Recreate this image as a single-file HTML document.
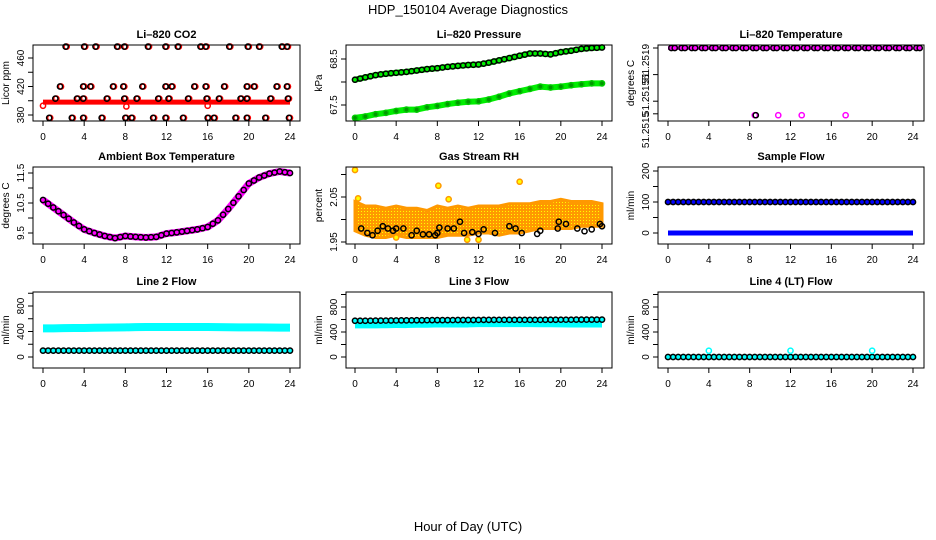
<!DOCTYPE html>
<html><head><meta charset="utf-8"><style>
body{margin:0;background:#fff}
svg{display:block;font-family:"Liberation Sans",sans-serif}
</style></head><body>
<svg id="chart" width="936" height="540" viewBox="0 0 936 540">
<defs>
<pattern id="rhpat" width="3" height="3" patternUnits="userSpaceOnUse"><rect width="3" height="3" fill="#ff9900"/><rect x="1" y="1" width="1" height="1" fill="#ffff00"/></pattern>
</defs>
<text x="468" y="14" text-anchor="middle" font-size="13">HDP_150104  Average Diagnostics</text>
<text x="468" y="531" text-anchor="middle" font-size="13">Hour of Day (UTC)</text>
</svg>
<script>
// ---- data ----
const xTicks = [0,4,8,12,16,20,24];
const co2Hours476 = [2.2,4.0,5.1,7.2,7.9,10.2,11.9,13.1,15.3,15.8,18.1,19.9,21.0,23.2,23.7];
const co2Hours420 = [1.65,3.9,4.6,6.8,7.8,9.65,11.9,12.5,14.7,15.8,17.6,19.8,20.5,22.7,23.7];
const co2Hours405 = [1.2,3.3,3.9,6.2,7.9,9.1,11.2,12.2,14.1,15.9,17.1,19.2,19.8,22.1,23.8];
const co2Hours376 = [0.6,2.8,3.9,5.7,8.0,8.6,10.7,11.9,13.6,16.0,16.6,18.7,19.8,21.6,23.9];
const co2RedLevel = 398;
const co2RedOutliers = [[0,393],[8.1,392],[16,393]];
const hours = [0,1,2,3,4,5,6,7,8,9,10,11,12,13,14,15,16,17,18,19,20,21,22,23,24];
const pressUpper = [68.05,68.1,68.15,68.18,68.2,68.22,68.25,68.28,68.3,68.33,68.35,68.37,68.38,68.42,68.47,68.52,68.57,68.62,68.62,68.6,68.65,68.68,68.72,68.74,68.75];
const pressLower = [67.22,67.25,67.3,67.33,67.37,67.4,67.4,67.45,67.48,67.52,67.55,67.57,67.58,67.62,67.68,67.75,67.8,67.85,67.9,67.88,67.9,67.93,67.95,67.97,67.97];
const tempHigh = 51.2519;
const tempLowHours = [8.5,10.8,13.1,17.4];
const ambient = [10.6,10.35,10.1,9.85,9.62,9.5,9.4,9.33,9.4,9.37,9.35,9.37,9.48,9.52,9.57,9.62,9.7,9.92,10.3,10.72,11.15,11.35,11.48,11.55,11.5];
const rhUpper = [2.04,2.03,2.03,2.025,2.03,2.025,2.025,2.02,2.03,2.025,2.03,2.025,2.03,2.03,2.03,2.035,2.035,2.035,2.04,2.04,2.045,2.04,2.04,2.04,2.035];
const rhLower = [1.975,1.965,1.96,1.96,1.965,1.96,1.96,1.96,1.96,1.965,1.965,1.965,1.97,1.97,1.965,1.97,1.97,1.975,1.98,1.98,1.98,1.98,1.985,1.985,1.985];
const rhBlack = [[0.6,1.98],[1.2,1.97],[1.7,1.965],[2.2,1.975],[2.7,1.985],[3.2,1.98],[3.7,1.975],[4.0,1.98],[4.7,1.98],[5.5,1.965],[6.0,1.975],[6.6,1.967],[7.2,1.967],[7.8,1.965],[8.0,1.97],[8.2,1.982],[9.0,1.98],[9.6,1.98],[10.2,1.995],[10.6,1.97],[11.4,1.972],[12.0,1.968],[12.5,1.978],[13.6,1.97],[15.0,1.985],[15.6,1.98],[16.2,1.97],[17.7,1.968],[18.0,1.975],[19.7,1.98],[19.8,1.995],[20.5,1.99],[21.6,1.98],[22.3,1.974],[23.0,1.978],[23.8,1.99],[24.0,1.985]];
const rhOutliers = [[0,2.11],[0.3,2.047],[8.1,2.075],[9.1,2.045],[10.9,1.955],[12.0,1.955],[16.0,2.084],[4.0,1.96]];
const sampleHigh = [100,100,100,100,100,100,100,100,100,100,100,100,100,100,100,100,100,100,100,100,100,100,100,100,100];
const sampleLow = [0,0,0,0,0,0,0,0,0,0,0,0,0,0,0,0,0,0,0,0,0,0,0,0,0];
const line2Cyan = [450,450,452,455,455,458,460,462,465,468,470,470,470,470,470,470,470,468,466,465,465,465,462,460,460];
const line2Black = [100,100,100,100,100,100,100,100,100,100,100,100,100,100,100,100,100,100,100,100,100,100,100,100,100];
const line3Cyan = [530,530,530,532,535,535,540,540,545,545,545,545,550,550,550,550,550,550,548,548,545,545,545,545,545];
const line3Black = [580,580,582,583,585,586,588,589,590,590,592,592,593,594,595,595,595,595,595,596,597,597,598,598,598];
const line4Black = [0,0,0,0,0,0,0,0,0,0,0,0,0,0,0,0,0,0,0,0,0,0,0,0,0];
const line4CyanSpikes = [[4,100],[12,100],[20,100]];

// ---- drawing ----
const svg = document.getElementById('chart');
const NS = 'http://www.w3.org/2000/svg';
function mk(tag, attrs, parent){const e=document.createElementNS(NS,tag);for(const k in attrs)e.setAttribute(k,attrs[k]);(parent||svg).appendChild(e);return e;}
const cols=[{l:33,r:300,x0:43,x24:290},{l:346,r:612,x0:355,x24:602},{l:658,r:924,x0:668,x24:913}];
const rows=[{t:45,b:121},{t:167,b:244},{t:292,b:368}];

function panel(name,ci,ri,title,ylab,ref,ticks,labels){
  const c=cols[ci], r=rows[ri];
  const g=mk('g',{});
  
  
  const xs=h=>c.x0+(h/24)*(c.x24-c.x0);
  const ys=v=>ref[0][1]+(v-ref[0][0])*(ref[1][1]-ref[0][1])/(ref[1][0]-ref[0][0]);
  const t=mk('text',{x:(c.l+c.r)/2,y:r.t-7,'text-anchor':'middle','font-size':11,'font-weight':'bold'},g);
  t.textContent=title;
  
  
  const yl=mk('text',{x:0,y:0,'text-anchor':'middle','font-size':10,transform:`translate(${c.l-24},${(r.t+r.b)/2}) rotate(-90)`},g);
  yl.textContent=ylab;
  
  
  const data=mk('g',{},g);
  
  
  const box=mk('rect',{x:c.l,y:r.t,width:c.r-c.l,height:r.b-r.t,fill:'none',stroke:'#000','stroke-width':1},g);
  
  
  xTicks.forEach(h=>{
    mk('line',{x1:xs(h),x2:xs(h),y1:r.b,y2:r.b+5,stroke:'#000'},g);
    const tx=mk('text',{x:xs(h),y:r.b+19,'text-anchor':'middle','font-size':10},g);
    tx.textContent=h;
    
    
  });
  ticks.forEach(v=>mk('line',{x1:c.l-5,x2:c.l,y1:ys(v),y2:ys(v),stroke:'#000'},g));
  labels.forEach(([txt,val,isPx])=>{
    const y=isPx?val:ys(val);
    const tl=mk('text',{x:0,y:0,'text-anchor':'middle','font-size':10,transform:`translate(${c.l-9},${y}) rotate(-90)`},g);
    tl.textContent=txt;
    
    
  });
  return {g:data,xs,ys};
}
function circ(p,h,v,col,fill){const e=mk('circle',{cx:p.xs(h),cy:p.ys(v),r:2.6,fill:fill||'none',stroke:col,'stroke-width':1.5},p.g);return e;}
function line(p,hs,vs,col,w){const e=mk('polyline',{points:hs.map((h,i)=>p.xs(h)+','+p.ys(vs[i])).join(' '),fill:'none',stroke:col,'stroke-width':w,'stroke-linejoin':'round'},p.g);return e;}
function dense(p,vals,col,w,blk){
  line(p,hours,vals,col,w);
  if(blk) hours.forEach((h,i)=>{ if(i<24){circ(p,h+0.5,(vals[i]+vals[i+1])/2,'#000',col);} circ(p,h,vals[i],'#000',col);});
}

// CO2
let p=panel('co2-panel',0,0,'Li\u2013820 CO2','Licor ppm',[[380,115],[460,58]],[380,400,420,440,460],[['380',380],['420',420],['460',460]]);
line(p,[0,24],[co2RedLevel,co2RedLevel],'#ff0000',5);
co2RedOutliers.forEach(([h,v])=>circ(p,h,v,'#ff0000'));
[[co2Hours476,476],[co2Hours420,420],[co2Hours405,403],[co2Hours376,376]].forEach(([hs,v])=>hs.forEach(h=>{circ(p,h+0.1,v,'#ff0000');circ(p,h,v,'#000');}));

// Pressure
p=panel('pressure-panel',1,0,'Li\u2013820 Pressure','kPa',[[67.5,105],[68.5,59]],[67.5,68,68.5],[['67.5',67.5],['68.5',68.5]]);
dense(p,pressLower,'#00ee00',6,false);
hours.forEach((h,i)=>circ(p,h,pressLower[i],'#00cc00','#009900'));
dense(p,pressUpper,'#00ee00',6,true);

// Temperature
p=panel('temperature-panel',2,0,'Li\u2013820 Temperature','degrees C',[[51.2514,118],[51.2519,48]],[51.2519,51.25171,51.25152,51.25143],[['51.2519',62,true],['51',78,true],['51.2515',98,true],['51.2515',130,true]]);
line(p,[0,24],[tempHigh,tempHigh],'#ff00ff',4);
hours.forEach((h,i)=>{circ(p,h+0.33,tempHigh,'#000','#ff00ff');circ(p,h+0.66,tempHigh,'#000','#ff00ff');});
tempLowHours.forEach(h=>circ(p,h,51.25142,'#ff00ff'));
circ(p,8.6,51.25142,'#000');

// Ambient
p=panel('ambient-temp-panel',0,1,'Ambient Box Temperature','degrees C',[[9.5,233],[11.5,173]],[9.5,10,10.5,11,11.5],[['9.5',9.5],['10.5',10.5],['11.5',11.5]]);
dense(p,ambient,'#ff00ff',7,true);

// RH
p=panel('rh-panel',1,1,'Gas Stream RH','percent',[[1.95,242],[2.05,197]],[1.95,2.0,2.05,2.1],[['1.95',1.95],['2.05',2.05]]);
{const pts=hours.map((h,i)=>p.xs(h)+','+p.ys(rhUpper[i])).concat(hours.slice().reverse().map((h,j)=>p.xs(h)+','+p.ys(rhLower[24-j]))).join(' ');
 const band=mk('polygon',{points:pts,fill:'url(#rhpat)',stroke:'#ff9900','stroke-width':3},p.g);
 }
rhOutliers.forEach(([h,v])=>circ(p,h,v,'#ff9900','#ffff00'));
rhBlack.forEach(([h,v])=>circ(p,h,v,'#000'));

// Sample Flow
p=panel('sample-flow-panel',2,1,'Sample Flow','ml/min',[[0,233],[200,171]],[0,50,100,150,200],[['0',0],['100',100],['200',200]]);
dense(p,sampleLow,'#0000ff',5,false);
dense(p,sampleHigh,'#0000ff',5,true);

// Line 2
p=panel('line2-flow-panel',0,2,'Line 2 Flow','ml/min',[[0,357],[800,306]],[0,200,400,600,800,1000],[['0',0],['400',400],['800',800]]);
dense(p,line2Cyan,'#00ffff',8,false);
dense(p,line2Black,'#00ffff',5,true);

// Line 3
p=panel('line3-flow-panel',1,2,'Line 3 Flow','ml/min',[[0,357],[800,307]],[0,200,400,600,800,1000],[['0',0],['400',400],['800',800]]);
dense(p,line3Cyan,'#00ffff',9,false);
dense(p,line3Black,'#00ffff',4,true);

// Line 4
p=panel('line4-flow-panel',2,2,'Line 4 (LT) Flow','ml/min',[[0,357],[800,307]],[0,200,400,600,800,1000],[['0',0],['400',400],['800',800]]);
dense(p,line4Black,'#00ffff',5,true);
line4CyanSpikes.forEach(([h,v])=>circ(p,h,v,'#00ffff'));
</script>
</body></html>
